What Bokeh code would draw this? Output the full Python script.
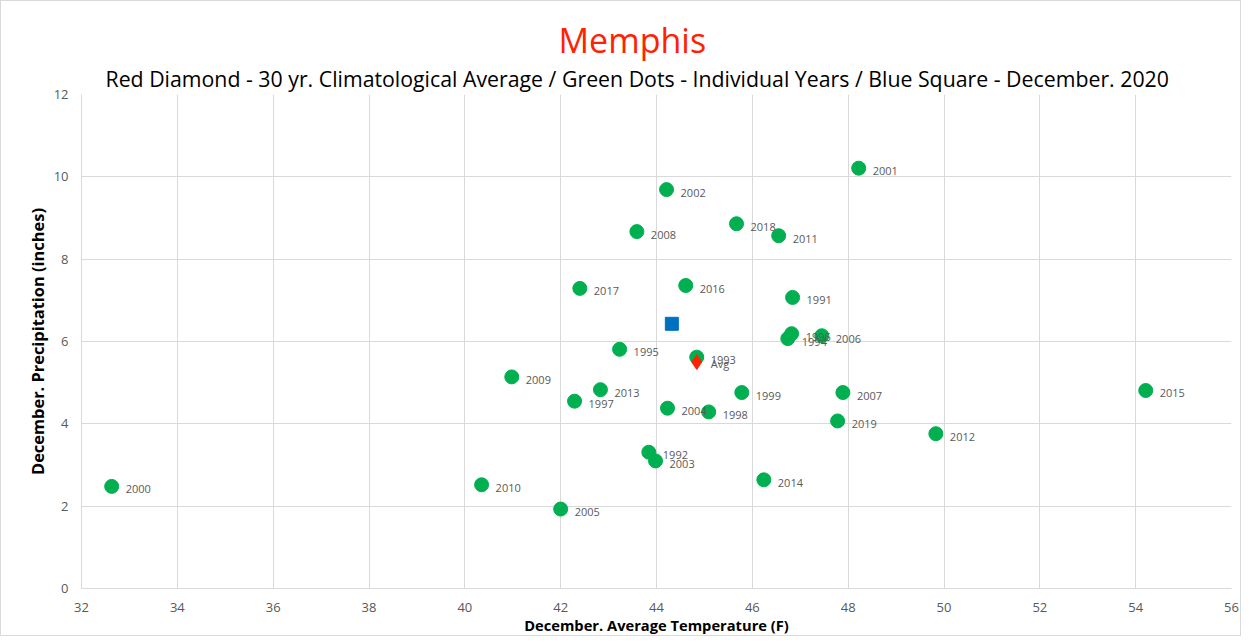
from bokeh.plotting import figure
from bokeh.models import ColumnDataSource, LabelSet, Title, FixedTicker, Range1d
from bokeh.core.properties import value
from bokeh.embed import file_html
from bokeh.resources import INLINE

years = ["2000", "2010", "2005", "2009", "1997", "2013", "1995", "2017", "2008", "2002",
         "2016", "2018", "2011", "2001", "1991", "1996", "1994", "2006", "1993", "2004",
         "1998", "1999", "2007", "2019", "2012", "2015", "1992", "2003", "2014"]
temps = [32.63, 40.35, 42.0, 40.98, 42.29, 42.83, 43.23, 42.40, 43.59, 44.21,
         44.61, 45.67, 46.55, 48.22, 46.84, 46.82, 46.74, 47.45, 44.84, 44.23,
         45.09, 45.78, 47.89, 47.78, 49.83, 54.21, 43.84, 43.98, 46.24]
precip = [2.48, 2.52, 1.93, 5.14, 4.55, 4.83, 5.81, 7.29, 8.67, 9.69,
          7.36, 8.86, 8.57, 10.21, 7.07, 6.19, 6.07, 6.14, 5.62, 4.38,
          4.29, 4.76, 4.76, 4.07, 3.76, 4.81, 3.31, 3.10, 2.64]
avg_temp = [44.84]
avg_precip = [5.50]
avg_label = ["Avg"]
cur_temp = [44.32]
cur_precip = [6.43]
x_ticks = [32, 34, 36, 38, 40, 42, 44, 46, 48, 50, 52, 54, 56]
y_ticks = [0, 2, 4, 6, 8, 10, 12]

FONT = "Open Sans"

p = figure(width=1241, height=636, output_backend="svg", toolbar_location=None,
           x_range=Range1d(32, 56), y_range=Range1d(0, 12),
           min_border_left=80, min_border_right=11, min_border_top=93, min_border_bottom=40)
p.styles = {"border": "1px solid #d9d9d9"}

sub = Title(text="Red Diamond - 30 yr. Climatological Average / Green Dots - Individual Years / Blue Square - December. 2020",
            align="left", text_font=FONT, text_font_size="21.3px", text_font_style="normal",
            text_color="#000000", standoff=4, offset=24)
main = Title(text="Memphis", align="left", text_font=FONT, text_font_size="34px",
             text_font_style="normal", text_color="#ff2200", standoff=-7, offset=477)
p.add_layout(sub, "above")
p.add_layout(main, "above")

p.outline_line_color = None
p.background_fill_color = "white"
p.border_fill_color = "white"

for ax in (p.xaxis, p.yaxis):
    ax.major_tick_line_color = None
    ax.minor_tick_line_color = None
    ax.major_label_text_font = FONT
    ax.major_label_text_font_size = "13px"
    ax.major_label_text_color = "#595959"
    ax.axis_label_text_font = FONT
    ax.axis_label_text_font_style = "bold"
    ax.axis_label_text_color = "#000000"
    ax.axis_line_color = "#d9d9d9"

p.xaxis.axis_label_text_font_size = "14.7px"
p.yaxis.axis_label_text_font_size = "16.4px"
p.xaxis.ticker = FixedTicker(ticks=x_ticks)
p.yaxis.ticker = FixedTicker(ticks=y_ticks)
p.xaxis.axis_label = "December. Average Temperature (F)"
p.yaxis.axis_label = "December. Precipitation (inches)"
p.xaxis.major_label_standoff = 8
p.yaxis.major_label_standoff = 7
p.xaxis.axis_label_standoff = 0
p.yaxis.axis_label_standoff = 2

p.xgrid.grid_line_color = "#d9d9d9"
p.ygrid.grid_line_color = "#d9d9d9"
p.xgrid.ticker = FixedTicker(ticks=x_ticks)
p.ygrid.ticker = FixedTicker(ticks=y_ticks)

src = ColumnDataSource(dict(x=temps, y=precip, lab=years))
p.scatter("x", "y", source=src, size=14, marker="circle", fill_color="#00b050", line_color="#00b050")
p.add_layout(LabelSet(x="x", y="y", text="lab", source=src, x_offset=14, y_offset=-3,
                      text_font=value(FONT), text_font_size=value("11px"), text_color="#595959",
                      text_baseline="middle"))

asrc = ColumnDataSource(dict(x=avg_temp, y=avg_precip, lab=avg_label))
p.scatter("x", "y", source=asrc, size=15, marker="diamond", fill_color="#ff2200", line_color="#ff2200")
p.add_layout(LabelSet(x="x", y="y", text="lab", source=asrc, x_offset=14, y_offset=-1,
                      text_font=value(FONT), text_font_size=value("11px"), text_color="#595959",
                      text_baseline="middle"))

csrc = ColumnDataSource(dict(x=cur_temp, y=cur_precip))
p.scatter("x", "y", source=csrc, size=13, marker="square", fill_color="#0070c0", line_color="#0070c0")

open("out.html", "w").write(file_html(p, INLINE))
